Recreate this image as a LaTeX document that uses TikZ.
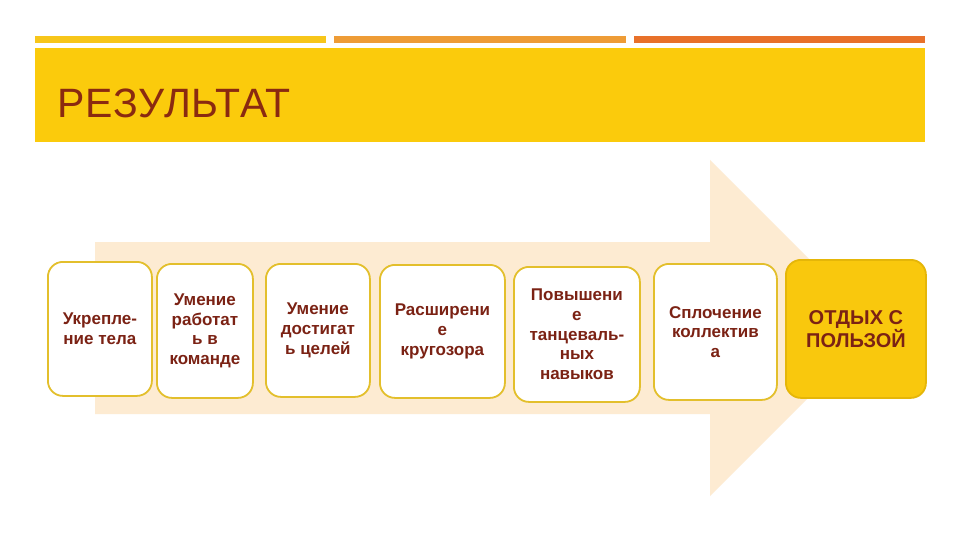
\documentclass[tikz,border=0pt]{standalone}
\usepackage{fontspec}
\setmainfont{Liberation Sans}
\newfontfamily\titlefont[LetterSpace=2.5]{Liberation Sans}
\definecolor{hdr}{HTML}{FBCB0C}
\definecolor{barA}{HTML}{F7C61A}
\definecolor{barB}{HTML}{EE9C36}
\definecolor{barC}{HTML}{E8712A}
\definecolor{arrowc}{HTML}{FDEBD2}
\definecolor{boxline}{HTML}{E3BF2C}
\definecolor{goldfill}{HTML}{F9C80D}
\definecolor{goldline}{HTML}{E5B608}
\definecolor{txt}{HTML}{7B2214}
\definecolor{ttl}{HTML}{8A2A10}
\tikzset{
  box/.style={draw=boxline, line width=1.8pt, fill=white, rounded corners=15pt,
    anchor=north west, align=center, text=txt,
    font=\fontsize{17}{19.6}\selectfont\bfseries, inner sep=0pt},
  goldbox/.style={box, draw=goldline, fill=goldfill,
    font=\fontsize{20}{21}\selectfont\bfseries}
}
\begin{document}
\begin{tikzpicture}[x=1pt,y=-1pt]
\useasboundingbox (0,0) rectangle (960,540);
\fill[white] (0,0) rectangle (960,540);
% top bars
\fill[barA] (35,36) rectangle (326,43);
\fill[barB] (334,36) rectangle (626,43);
\fill[barC] (634,36) rectangle (925,43);
% header
\fill[hdr] (35,48) rectangle (925,142);
\node[anchor=base west, inner sep=0pt, text=ttl, font=\titlefont\fontsize{41}{43}\selectfont] (title) at (57,118) {РЕЗУЛЬТАТ};
% arrow
\fill[arrowc] (95,242) -- (710,242) -- (710,160) -- (878,328) -- (710,496) -- (710,414) -- (95,414) -- cycle;
% boxes
\node[box, minimum width=104pt, minimum height=134pt] (b1) at (47,261) {Укрепле-\\ние тела};
\node[box, minimum width=96pt, minimum height=134pt] (b2) at (156,263) {Умение\\работат\\ь в\\команде};
\node[box, minimum width=104pt, minimum height=133pt] (b3) at (265,263) {Умение\\достигат\\ь целей};
\node[box, minimum width=125pt, minimum height=133pt] (b4) at (379,264) {Расширени\\е\\кругозора};
\node[box, minimum width=126pt, minimum height=135pt] (b5) at (513,266) {Повышени\\е\\танцеваль-\\ных\\навыков};
\node[box, minimum width=123pt, minimum height=136pt] (b6) at (653,263) {Сплочение\\коллектив\\а};
\node[goldbox, minimum width=140pt, minimum height=138pt] (b7) at (785,259) {ОТДЫХ С\\ПОЛЬЗОЙ};
\end{tikzpicture}
\end{document}
